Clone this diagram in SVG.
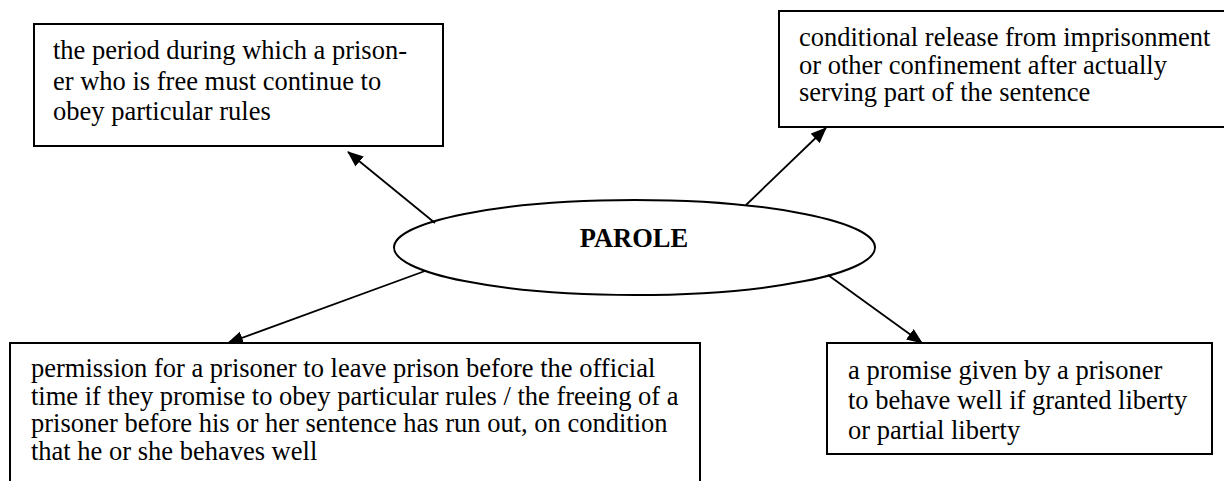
<svg xmlns="http://www.w3.org/2000/svg" width="1224" height="481" viewBox="0 0 1224 481">
<style>
.box{fill:#fff;stroke:#000;stroke-width:2}
.t{font-family:"Liberation Serif","Times New Roman",serif;font-size:26.5px;fill:#000}
.b{font-weight:bold}
.c{stroke:#000;stroke-width:1.8;fill:none;marker-end:url(#ah)}
</style>
<defs>
<marker id="ah" markerUnits="userSpaceOnUse" markerWidth="16" markerHeight="13" refX="15" refY="6.5" orient="auto">
<path d="M0,0 L16,6.5 L0,13 z" fill="#000"/>
</marker>
</defs>
<rect width="1224" height="481" fill="#fff"/>
<g id="n1">
<rect class="box" x="34" y="24" width="409" height="122"/>
<text class="t" x="53" y="59">the period during which a prison-</text>
<text class="t" x="53" y="89.5">er who is free must continue to</text>
<text class="t" x="53" y="120">obey particular rules</text>
</g>
<g id="n2">
<rect class="box" x="779" y="11" width="460" height="116"/>
<text class="t" x="799" y="46">conditional release from imprisonment</text>
<text class="t" x="799" y="73.5">or other confinement after actually</text>
<text class="t" x="799" y="101">serving part of the sentence</text>
</g>
<g id="center">
<ellipse class="box" cx="634.5" cy="247.5" rx="240.5" ry="47.5"/>
<text class="t b" x="634" y="247" text-anchor="middle">PAROLE</text>
</g>
<g id="n3">
<rect class="box" x="10" y="343" width="690" height="150"/>
<text class="t" x="31" y="377">permission for a prisoner to leave prison before the official</text>
<text class="t" x="31" y="404.5">time if they promise to obey particular rules / the freeing of a</text>
<text class="t" x="31" y="432">prisoner before his or her sentence has run out, on condition</text>
<text class="t" x="31" y="459.5">that he or she behaves well</text>
</g>
<g id="n4">
<rect class="box" x="827" y="343" width="385" height="111"/>
<text class="t" x="848" y="379">a promise given by a prisoner</text>
<text class="t" x="848" y="409">to behave well if granted liberty</text>
<text class="t" x="848" y="439">or partial liberty</text>
</g>
<g id="connectors">
<line class="c" x1="435" y1="223" x2="348" y2="152"/>
<line class="c" x1="746" y1="205" x2="826" y2="128"/>
<line class="c" x1="425" y1="271" x2="228" y2="343"/>
<line class="c" x1="828" y1="275" x2="922" y2="343"/>
</g>
</svg>
